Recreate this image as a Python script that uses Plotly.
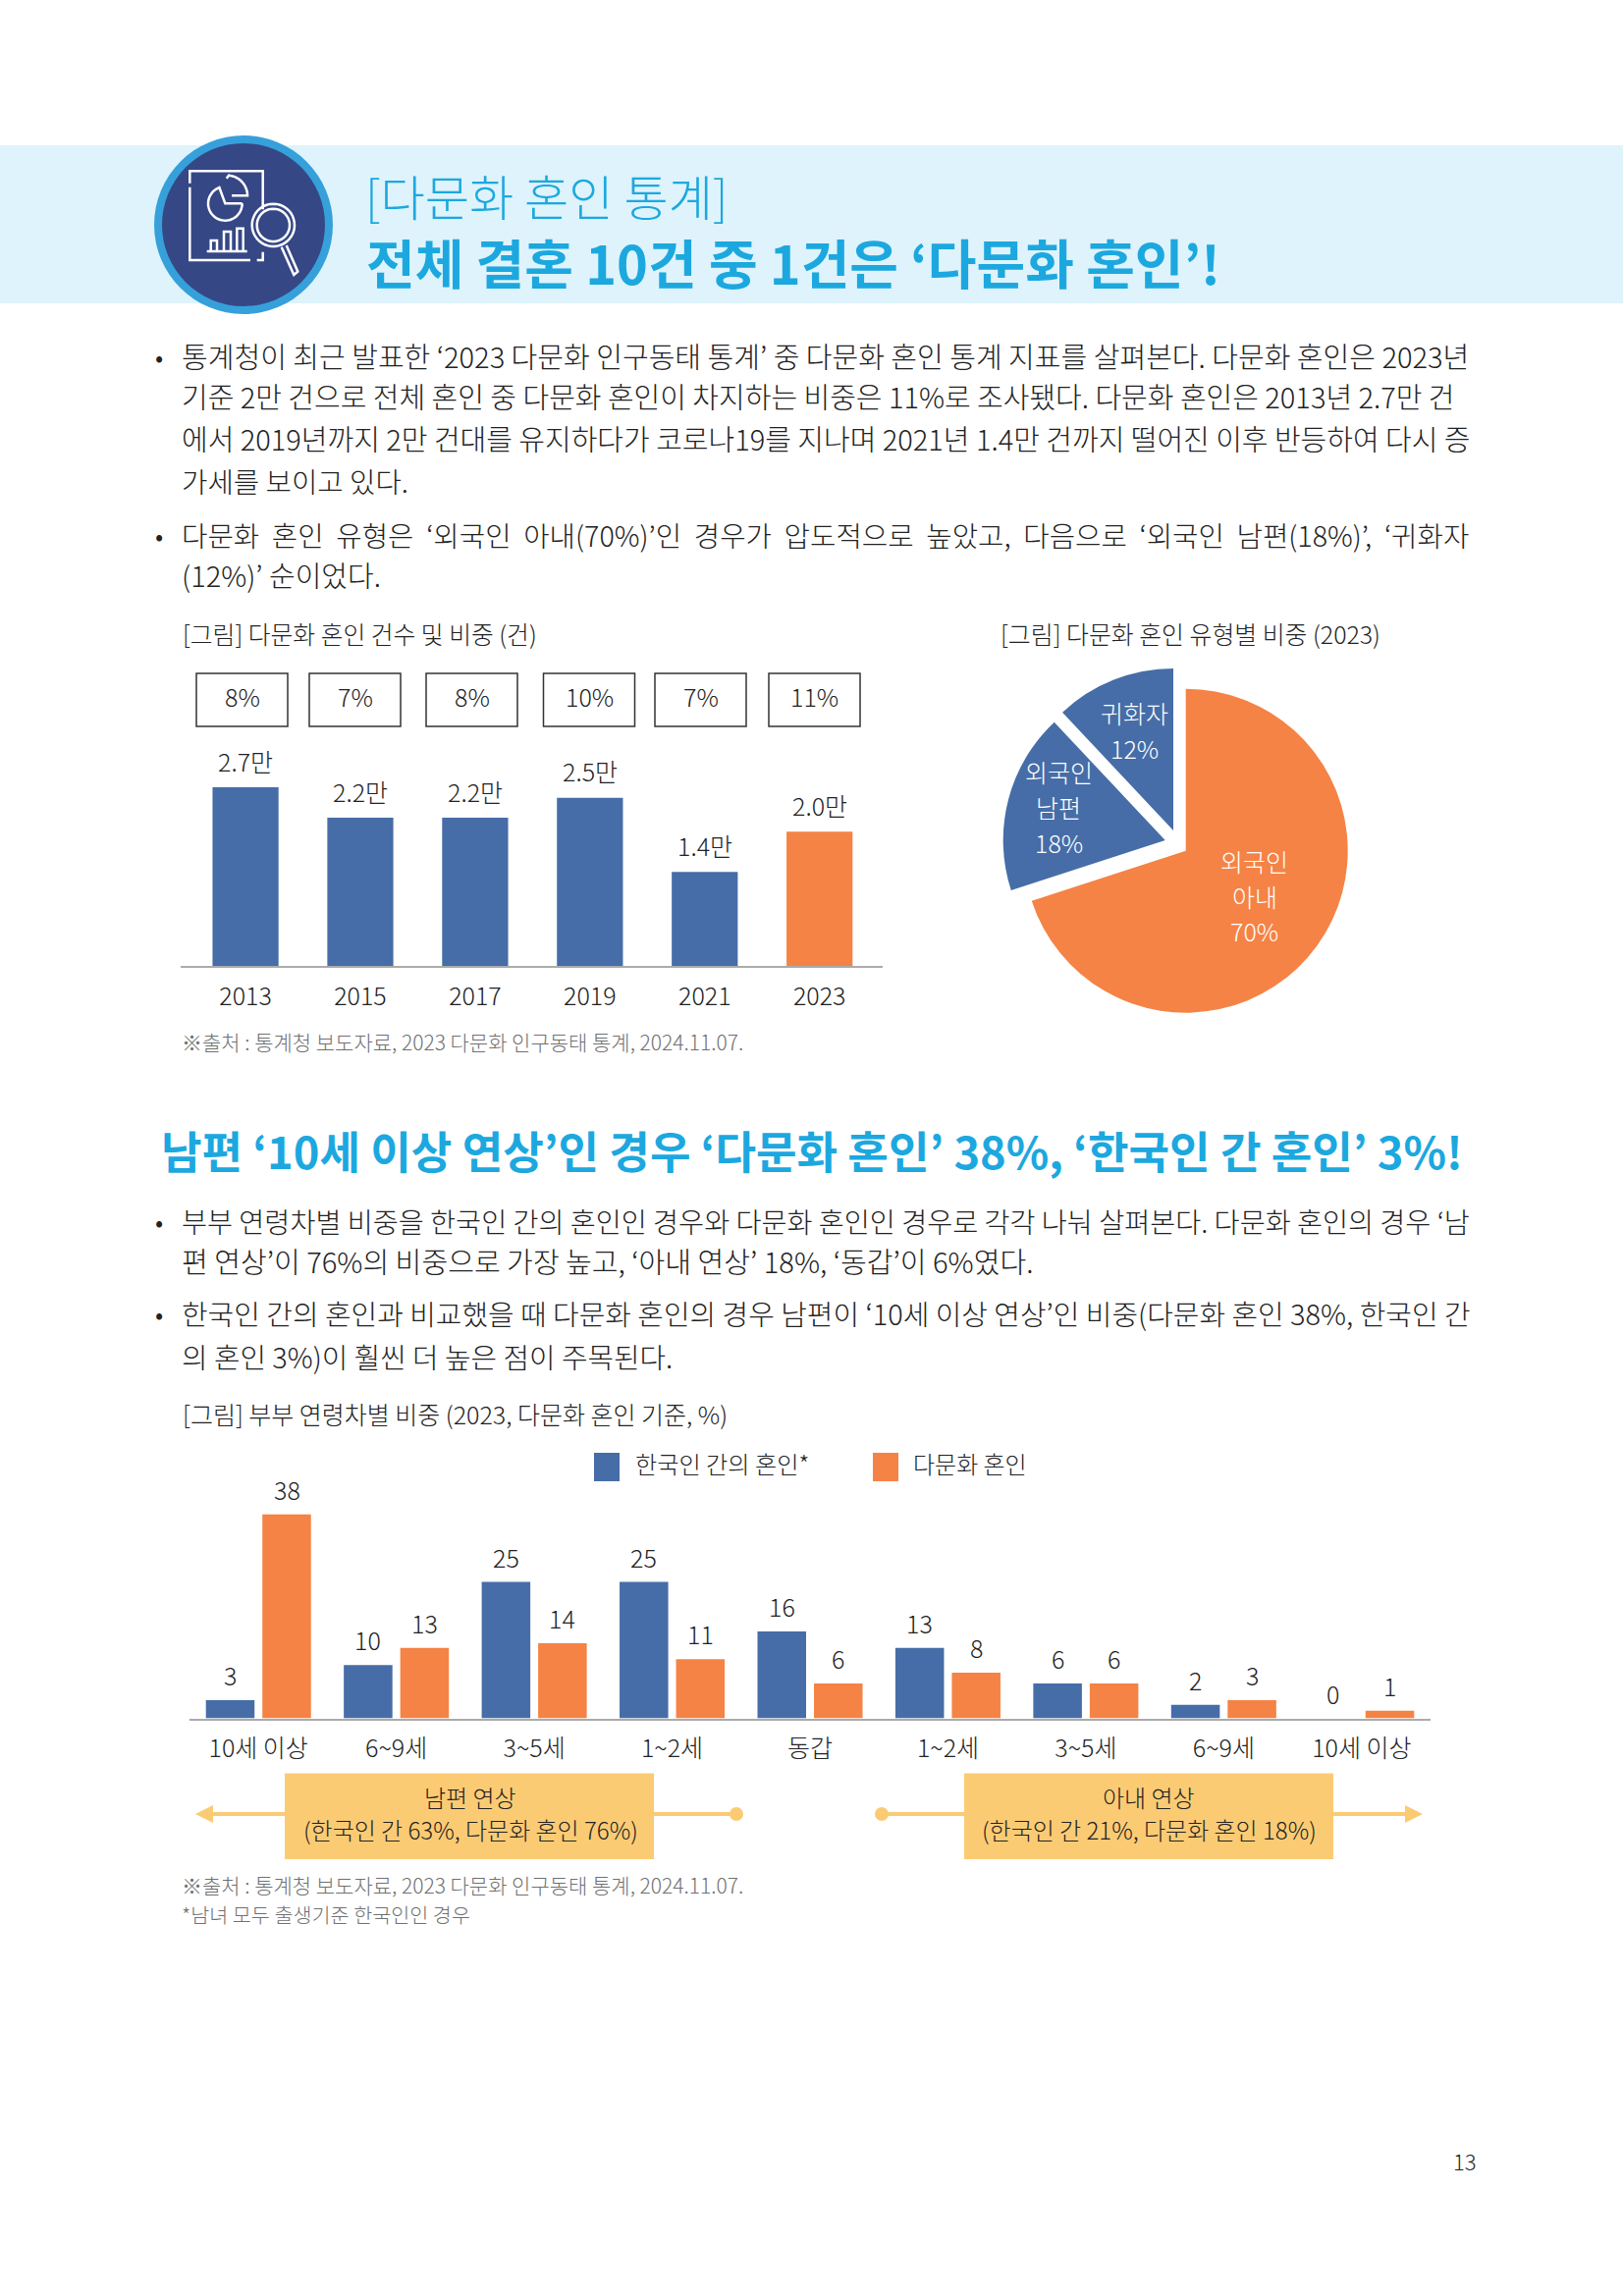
#!/usr/bin/env python3
"""Page 13: multicultural marriage statistics, two bar charts and a pie."""
import numpy as np
import plotly.graph_objects as go

W, H = 1653, 2339

BLUE = '#466DA7'
ORANGE = '#F58345'
CYAN = '#1CA8DF'
BAND = '#DEF3FB'
YELLOW = '#FBCB74'
INK = '#222222'
GREY = '#707070'
FONT = 'Noto Sans CJK KR'

# chart 1: marriages
years = ['2013', '2015', '2017', '2019', '2021', '2023']
marriages = [2.70, 2.24, 2.24, 2.54, 1.42, 2.03]
marriage_labels = ['2.7만', '2.2만', '2.2만', '2.5만', '1.4만', '2.0만']
share_labels = ['8%', '7%', '8%', '10%', '7%', '11%']

# pie: types
pie_types = ['외국인 아내', '외국인 남편', '귀화자']
pie_values = [70, 18, 12]

# chart 2: age gap
age_groups = ['10세 이상', '6~9세', '3~5세', '1~2세', '동갑', '1~2세', '3~5세', '6~9세', '10세 이상']
korean = [3.4, 9.9, 25.4, 25.4, 16.2, 13.1, 6.5, 2.5, 0]
multicultural = [38, 13.1, 14, 11, 6.5, 8.5, 6.5, 3.4, 1.4]
korean_labels = ['3', '10', '25', '25', '16', '13', '6', '2', '0']
multicultural_labels = ['38', '13', '14', '11', '6', '8', '6', '3', '1']

body_lines = [
    (362, 29.05, '통계청이 최근 발표한 ‘2023 다문화 인구동태 통계’ 중 다문화 혼인 통계 지표를 살펴본다. 다문화 혼인은 2023년'),
    (403, 29.0, '기준 2만 건으로 전체 혼인 중 다문화 혼인이 차지하는 비중은 11%로 조사됐다. 다문화 혼인은 2013년 2.7만 건'),
    (446, 29.0, '에서 2019년까지 2만 건대를 유지하다가 코로나19를 지나며 2021년 1.4만 건까지 떨어진 이후 반등하여 다시 증'),
    (489, 28.7, '가세를 보이고 있다.'),
    (544, 28.7, '다문화  혼인  유형은  ‘외국인  아내(70%)’인  경우가  압도적으로  높았고,  다음으로  ‘외국인  남편(18%)’,  ‘귀화자'),
    (585, 29.0, '(12%)’ 순이었다.'),
    (1243, 28.3, '부부 연령차별 비중을 한국인 간의 혼인인 경우와 다문화 혼인인 경우로 각각 나눠 살펴본다. 다문화 혼인의 경우 ‘남'),
    (1284, 29.1, '편 연상’이 76%의 비중으로 가장 높고, ‘아내 연상’ 18%, ‘동갑’이 6%였다.'),
    (1337, 28.95, '한국인 간의 혼인과 비교했을 때 다문화 혼인의 경우 남편이 ‘10세 이상 연상’인 비중(다문화 혼인 38%, 한국인 간'),
    (1381, 28.85, '의 혼인 3%)이 훨씬 더 높은 점이 주목된다.'),
]
bullet_rows = [362, 544, 1243, 1337]

box_lefts = [200, 315, 434, 553.5, 667, 783]

SOURCE = '※출처 : 통계청 보도자료, 2023 다문화 인구동태 통계, 2024.11.07.'

annotations = []
shapes = []


def text(s, x, y, size, color=INK, anchor='left', weight=300):
    annotations.append(dict(text=s, x=x, y=y, xref='x', yref='y', showarrow=False,
                            xanchor=anchor, yanchor='middle', borderpad=0,
                            font=dict(family=FONT, size=size, color=color, weight=weight)))


def value_label(s, x, y, xref, yref, shift, size=25):
    annotations.append(dict(text=s, x=x, y=y, xref=xref, yref=yref, showarrow=False,
                            xanchor='center', yanchor='middle', yshift=shift,
                            font=dict(family=FONT, size=size, color=INK, weight=300)))


def rect(x0, y0, x1, y1, fill, line=None):
    shapes.append(dict(type='rect', xref='x', yref='y', x0=x0, y0=y0, x1=x1, y1=y1, layer='below',
                       fillcolor=fill, line=dict(color=line or fill, width=1.5 if line else 0)))


def circle(cx, cy, r, fill, line=None, width=0):
    shapes.append(dict(type='circle', xref='x', yref='y', x0=cx - r, y0=cy - r, x1=cx + r, y1=cy + r,
                       layer='below', fillcolor=fill, line=dict(color=line or fill, width=width)))


def path(points, color, width=0, fill=None):
    d = 'M' + 'L'.join(f'{x:.1f},{y:.1f}' for x, y in points)
    if fill:
        d += 'Z'
    shapes.append(dict(type='path', xref='x', yref='y', path=d, layer='below',
                       fillcolor=fill or 'rgba(0,0,0,0)', line=dict(color=color, width=width)))


def z(x, y):
    return 140 + x / 3, 130 + y / 3


def arc(cx, cy, r, a0, a1):
    return [z(cx + r * np.sin(a), cy - r * np.cos(a)) for a in np.radians(np.linspace(a0, a1, 40))]


# header band and icon
rect(0, 148, W, 309, BAND)
circle(248, 229, 91, '#36A0DB')
circle(248, 229, 83, '#364786')
for pts in [
    [(160, 170), (160, 133), (383, 133), (383, 250)],
    [(160, 182), (160, 405), (345, 405)],
    [(365, 405), (383, 405), (383, 380)],
    [(212, 378), (335, 378)],
    [(224, 375), (224, 345), (243, 345), (243, 375)],
    [(264, 375), (264, 318), (285, 318), (285, 375)],
    [(304, 375), (304, 308), (323, 308), (323, 375)],
    [(440, 365), (478, 450), (490, 440), (455, 360)],
]:
    path([z(*p) for p in pts], 'white', 2.5)
path(arc(268, 232, 52, 90, 340) + [z(268, 232)] + [z(290, 232), z(320, 232)], 'white', 2.5)
path([z(272, 155)] + arc(274, 208, 62, 5, 90) + [z(288, 208)], 'white', 2.5)
for r in (65, 50):
    path(arc(415, 298, r, 0, 360), 'white', 2.5)

# headings
text('[다문화 혼인 통계]', 371, 198, 49.2, CYAN)
text('전체 결혼 10건 중 1건은 ‘다문화 혼인’!', 372, 266, 54, CYAN, weight=700)
text('남편 ‘10세 이상 연상’인 경우 ‘다문화 혼인’ 38%, ‘한국인 간 혼인’ 3%!', 163, 1171, 45.2, CYAN, weight=700)

for y, size, line in body_lines:
    text(line, 184, y, size)
for y in bullet_rows:
    text('•', 162, y, 26, anchor='center')

# figure captions and sources
text('[그림] 다문화 혼인 건수 및 비중 (건)', 185, 645, 24.8)
text('[그림] 다문화 혼인 유형별 비중 (2023)', 1018, 645, 24.9)
text('[그림] 부부 연령차별 비중 (2023, 다문화 혼인 기준, %)', 185, 1440, 25)
text(SOURCE, 184, 1061, 21, GREY)
text(SOURCE, 184, 1920, 21, GREY)
text('*남녀 모두 출생기준 한국인인 경우', 184, 1950, 20.7, GREY)
text('13', 1492, 2201, 22, anchor='center')

# share boxes above chart 1
for left, s in zip(box_lefts, share_labels):
    rect(left, 686, left + 93, 740, 'white', line='#333333')
    text(s, left + 46.5, 709, 25, anchor='center')

# legend of chart 2
rect(605, 1480, 631, 1509, BLUE)
text('한국인 간의 혼인*', 646, 1490, 24.2)
rect(889, 1480, 915, 1509, ORANGE)
text('다문화 혼인', 929, 1490, 24)

# callouts below chart 2
rect(290, 1806.5, 666, 1894, YELLOW)
text('남편 연상', 479, 1830.5, 24, anchor='center')
text('(한국인 간 63%, 다문화 혼인 76%)', 479, 1863.5, 24, anchor='center')
rect(982, 1806.5, 1358, 1894, YELLOW)
text('아내 연상', 1170, 1830.5, 24, anchor='center')
text('(한국인 간 21%, 다문화 혼인 18%)', 1170, 1863.5, 24, anchor='center')
ARROW_Y = 1848
path([(217, ARROW_Y), (290, ARROW_Y)], YELLOW, 4)
path([(199, ARROW_Y), (217, ARROW_Y - 9), (217, ARROW_Y + 9)], YELLOW, 0, fill=YELLOW)
path([(666, ARROW_Y), (750, ARROW_Y)], YELLOW, 4)
circle(750, ARROW_Y, 7, YELLOW)
path([(898, ARROW_Y), (982, ARROW_Y)], YELLOW, 4)
circle(898, ARROW_Y, 7, YELLOW)
path([(1358, ARROW_Y), (1431, ARROW_Y)], YELLOW, 4)
path([(1449, ARROW_Y), (1431, ARROW_Y - 9), (1431, ARROW_Y + 9)], YELLOW, 0, fill=YELLOW)

fig = go.Figure()

# chart 1
x1 = list(range(len(years)))
fig.add_trace(go.Bar(x=x1, y=marriages, xaxis='x2', yaxis='y2', width=0.575,
                     marker=dict(color=[BLUE] * 5 + [ORANGE], line=dict(width=0)),
                     hoverinfo='skip', showlegend=False))
for i, s in enumerate(marriage_labels):
    value_label(s, i, marriages[i], 'x2', 'y2', 27.5)

# pie: the slices are pulled apart unevenly, so each gets its own centre
pie_r = 165
pie_centres = [(1207.7, 866.7), (1186.7, 856), (1195, 846)]
pie_colors = [ORANGE, BLUE, BLUE]
start = 0
for v, name, (cx, cy), c in zip(pie_values, pie_types, pie_centres, pie_colors):
    fig.add_trace(go.Pie(values=[v, sum(pie_values) - v], labels=[name, ''], sort=False,
                         direction='clockwise', rotation=start * 360 / sum(pie_values),
                         marker=dict(colors=[c, 'rgba(0,0,0,0)'], line=dict(width=0)),
                         textinfo='none', hoverinfo='skip', showlegend=False,
                         domain=dict(x=[(cx - pie_r) / W, (cx + pie_r) / W],
                                     y=[1 - (cy + pie_r) / H, 1 - (cy - pie_r) / H])))
    start += v
for cx, rows in [(1277.7, [(877, '외국인'), (913, '아내'), (948, '70%')]),
                 (1078, [(786, '외국인'), (822, '남편'), (858, '18%')]),
                 (1155, [(726, '귀화자'), (762, '12%')])]:
    for y, s in rows:
        text(s, cx, y, 25, 'white', anchor='center')

# chart 2
x2 = list(range(len(age_groups)))
fig.add_trace(go.Bar(x=x2, y=korean, xaxis='x3', yaxis='y3', name='한국인 간의 혼인*',
                     marker=dict(color=BLUE, line=dict(width=0)), hoverinfo='skip', showlegend=False))
fig.add_trace(go.Bar(x=x2, y=multicultural, xaxis='x3', yaxis='y3', name='다문화 혼인',
                     marker=dict(color=ORANGE, line=dict(width=0)), hoverinfo='skip', showlegend=False))
for i in x2:
    value_label(korean_labels[i], i - 0.205, korean[i], 'x3', 'y3', 26)
    value_label(multicultural_labels[i], i + 0.205, multicultural[i], 'x3', 'y3', 26)

tick_font = dict(family=FONT, size=25, color=INK, weight=300)
fig.update_layout(
    width=W, height=H, margin=dict(l=0, r=0, t=0, b=0, pad=0),
    paper_bgcolor='white', plot_bgcolor='rgba(0,0,0,0)',
    barmode='group', bargap=0.181, bargroupgap=0.139,
    shapes=shapes, annotations=annotations,
    xaxis=dict(domain=[0, 1], range=[0, W], visible=False, fixedrange=True),
    yaxis=dict(domain=[0, 1], range=[H, 0], visible=False, fixedrange=True),
    xaxis2=dict(domain=[184 / W, 899 / W], range=[-0.565, 5.55], anchor='y2', tickmode='array',
                tickvals=x1, ticktext=years, tickfont=tick_font, ticks='', showgrid=False, zeroline=False,
                showline=True, linecolor='#ABABAB', linewidth=2, ticklabelstandoff=8),
    yaxis2=dict(domain=[1 - 984 / H, 1 - 780 / H], range=[0, 204 / 67.4], anchor='x2', visible=False),
    xaxis3=dict(domain=[193 / W, 1457 / W], range=[-0.5, 8.5], anchor='y3', tickmode='array',
                tickvals=x2, ticktext=age_groups, tickfont=tick_font, ticks='', showgrid=False, zeroline=False,
                showline=True, linecolor='#ABABAB', linewidth=2, ticklabelstandoff=7),
    yaxis3=dict(domain=[1 - 1750.5 / H, 1 - 1520 / H], range=[0, 230.5 / 5.47], anchor='x3', visible=False),
)

fig.write_html('out.html', config=dict(displayModeBar=False), post_script="document.body.style.margin='0';")
